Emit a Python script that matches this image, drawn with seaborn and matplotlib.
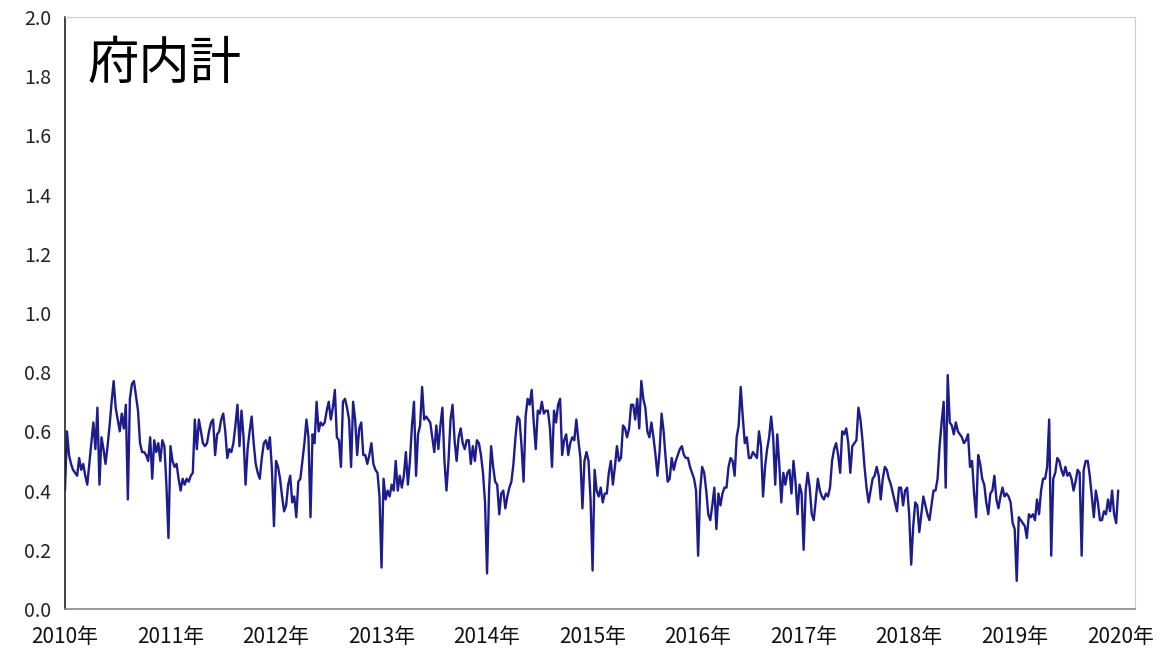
import numpy as np
import pandas as pd
import matplotlib
matplotlib.use("Agg")
import matplotlib.pyplot as plt
import seaborn as sns

# weekly values, one list per year
v2010 = [0.40, 0.60, 0.52, 0.49, 0.47, 0.46, 0.45, 0.51, 0.47, 0.49, 0.45, 0.42, 0.49,
         0.56, 0.63, 0.54, 0.68, 0.42, 0.58, 0.54, 0.49, 0.55, 0.62, 0.70, 0.77, 0.68,
         0.64, 0.60, 0.66, 0.61, 0.69, 0.37, 0.71, 0.76, 0.77, 0.72, 0.67, 0.56, 0.53,
         0.53, 0.52, 0.50, 0.58, 0.44, 0.57, 0.53, 0.56, 0.50, 0.57, 0.55, 0.42, 0.24]
v2011 = [0.55, 0.50, 0.48, 0.49, 0.44, 0.40, 0.44, 0.42, 0.44, 0.43, 0.45, 0.46, 0.64,
         0.54, 0.64, 0.60, 0.56, 0.55, 0.56, 0.60, 0.63, 0.64, 0.52, 0.59, 0.60, 0.64,
         0.66, 0.60, 0.51, 0.54, 0.53, 0.56, 0.62, 0.69, 0.55, 0.67, 0.58, 0.42, 0.54,
         0.60, 0.65, 0.56, 0.49, 0.46, 0.44, 0.51, 0.56, 0.57, 0.54, 0.58, 0.47, 0.28]
v2012 = [0.50, 0.48, 0.44, 0.38, 0.33, 0.35, 0.42, 0.45, 0.36, 0.38, 0.31, 0.43, 0.44,
         0.50, 0.56, 0.64, 0.58, 0.31, 0.59, 0.56, 0.70, 0.60, 0.63, 0.62, 0.63, 0.67,
         0.70, 0.64, 0.68, 0.74, 0.58, 0.57, 0.48, 0.70, 0.71, 0.68, 0.64, 0.48, 0.70,
         0.64, 0.52, 0.61, 0.63, 0.52, 0.52, 0.49, 0.52, 0.56, 0.49, 0.47, 0.46, 0.38]
v2013 = [0.14, 0.44, 0.37, 0.40, 0.38, 0.42, 0.40, 0.50, 0.40, 0.45, 0.41, 0.45, 0.53,
         0.42, 0.50, 0.62, 0.70, 0.45, 0.59, 0.62, 0.75, 0.64, 0.65, 0.64, 0.63, 0.58,
         0.53, 0.62, 0.54, 0.62, 0.68, 0.50, 0.40, 0.50, 0.64, 0.69, 0.57, 0.50, 0.58,
         0.61, 0.56, 0.54, 0.57, 0.57, 0.49, 0.55, 0.50, 0.57, 0.56, 0.52, 0.46, 0.36]
v2014 = [0.12, 0.40, 0.55, 0.48, 0.43, 0.42, 0.32, 0.39, 0.40, 0.34, 0.38, 0.41, 0.43,
         0.49, 0.58, 0.65, 0.64, 0.55, 0.43, 0.65, 0.71, 0.69, 0.74, 0.63, 0.54, 0.67,
         0.66, 0.70, 0.66, 0.67, 0.67, 0.61, 0.48, 0.67, 0.63, 0.69, 0.71, 0.52, 0.57,
         0.59, 0.52, 0.56, 0.58, 0.57, 0.64, 0.57, 0.51, 0.34, 0.50, 0.53, 0.50, 0.37]
v2015 = [0.13, 0.47, 0.40, 0.38, 0.41, 0.36, 0.39, 0.39, 0.46, 0.50, 0.42, 0.48, 0.55,
         0.50, 0.51, 0.62, 0.61, 0.58, 0.61, 0.69, 0.69, 0.64, 0.71, 0.61, 0.77, 0.71,
         0.68, 0.60, 0.58, 0.63, 0.58, 0.52, 0.45, 0.53, 0.66, 0.60, 0.51, 0.43, 0.44,
         0.51, 0.47, 0.50, 0.52, 0.54, 0.55, 0.52, 0.51, 0.51, 0.48, 0.46, 0.44, 0.40]
v2016 = [0.18, 0.40, 0.48, 0.46, 0.40, 0.32, 0.30, 0.35, 0.41, 0.27, 0.39, 0.35, 0.39,
         0.41, 0.41, 0.48, 0.51, 0.50, 0.45, 0.58, 0.62, 0.75, 0.65, 0.56, 0.58, 0.51,
         0.51, 0.53, 0.52, 0.51, 0.60, 0.55, 0.38, 0.48, 0.54, 0.58, 0.65, 0.58, 0.42,
         0.59, 0.49, 0.36, 0.46, 0.42, 0.46, 0.47, 0.39, 0.50, 0.43, 0.32, 0.42, 0.39]
v2017 = [0.20, 0.40, 0.46, 0.41, 0.32, 0.30, 0.37, 0.44, 0.40, 0.38, 0.37, 0.39, 0.38,
         0.41, 0.50, 0.54, 0.56, 0.52, 0.46, 0.60, 0.59, 0.61, 0.56, 0.46, 0.55, 0.56,
         0.57, 0.68, 0.64, 0.57, 0.48, 0.41, 0.36, 0.40, 0.44, 0.45, 0.48, 0.45, 0.37,
         0.44, 0.48, 0.47, 0.44, 0.42, 0.39, 0.36, 0.33, 0.41, 0.41, 0.35, 0.40, 0.41]
v2018 = [0.32, 0.15, 0.28, 0.36, 0.35, 0.26, 0.32, 0.38, 0.35, 0.32, 0.30, 0.35, 0.40,
         0.40, 0.44, 0.55, 0.63, 0.70, 0.41, 0.79, 0.63, 0.62, 0.59, 0.63, 0.60, 0.59,
         0.58, 0.56, 0.57, 0.59, 0.48, 0.50, 0.39, 0.31, 0.52, 0.49, 0.44, 0.42, 0.36,
         0.32, 0.39, 0.40, 0.45, 0.37, 0.34, 0.38, 0.41, 0.38, 0.39, 0.38, 0.36, 0.29]
v2019 = [0.27, 0.095, 0.31, 0.30, 0.29, 0.28, 0.24, 0.32, 0.31, 0.32, 0.30, 0.37, 0.32,
         0.40, 0.44, 0.44, 0.48, 0.64, 0.18, 0.44, 0.46, 0.51, 0.50, 0.47, 0.45, 0.48,
         0.45, 0.46, 0.44, 0.40, 0.43, 0.47, 0.46, 0.18, 0.47, 0.50, 0.50, 0.45, 0.38,
         0.31, 0.40, 0.36, 0.30, 0.30, 0.33, 0.32, 0.37, 0.33, 0.40, 0.32, 0.29, 0.40]

years = [2010, 2011, 2012, 2013, 2014, 2015, 2016, 2017, 2018, 2019]
series = [v2010, v2011, v2012, v2013, v2014, v2015, v2016, v2017, v2018, v2019]
yticks = [0.0, 0.2, 0.4, 0.6, 0.8, 1.0, 1.2, 1.4, 1.6, 1.8, 2.0]
xtick_years = list(range(2010, 2021))
title = "府内計"

rows = []
for yr, vals in zip(years, series):
    for i, v in enumerate(vals):
        rows.append((yr + i / len(vals), v))
df = pd.DataFrame(rows, columns=["t", "value"])

sns.set_style("white")
plt.rcParams["font.family"] = ["Noto Sans CJK JP", "DejaVu Sans"]

fig = plt.figure(figsize=(11.66, 6.52), dpi=100)
ax = fig.add_axes([0.0557, 0.066, 0.9177, 0.908])

sns.lineplot(data=df, x="t", y="value", ax=ax, color="#1c1c8c", linewidth=1.7)

ax.set_xlim(2010, 2020.14)
ax.set_ylim(0, 2.0)
ax.set_yticks(yticks)
ax.set_yticklabels([f"{y:.1f}" for y in yticks])
ax.set_xticks(xtick_years)
ax.set_xticklabels([f"{y}年" for y in xtick_years])
ax.set_xlabel("")
ax.set_ylabel("")
ax.tick_params(axis="y", direction="in", length=5, width=1, labelsize=14, pad=10, colors="#222222")
ax.tick_params(axis="x", direction="in", length=4, width=1, labelsize=15, pad=12, colors="#111111")
ax.tick_params(axis="x", color="#bbbbbb")

ax.spines["left"].set_color("#222222")
ax.spines["left"].set_linewidth(1.2)
ax.spines["bottom"].set_color("#888888")
ax.spines["bottom"].set_linewidth(1.2)
ax.spines["top"].set_color("#cccccc")
ax.spines["right"].set_color("#cccccc")
ax.spines["top"].set_linewidth(0.8)
ax.spines["right"].set_linewidth(0.8)

ax.text(0.021, 0.965, title, transform=ax.transAxes, fontsize=37, va="top", ha="left",
        color="black")

fig.savefig("out.png", dpi=100)
